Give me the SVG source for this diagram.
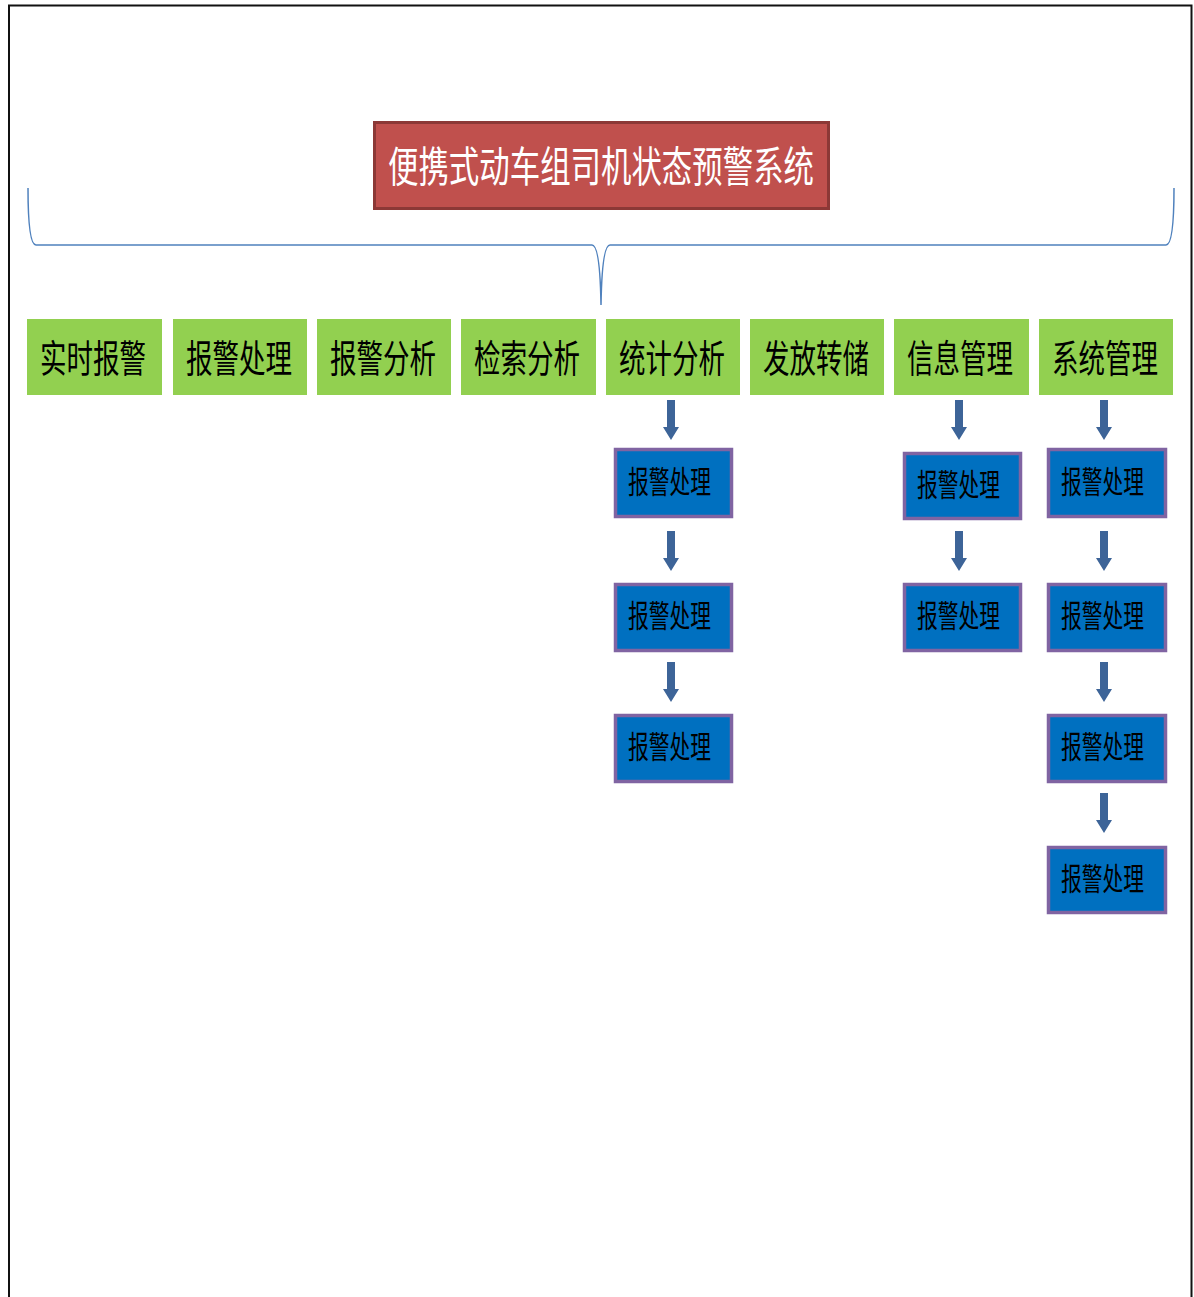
<svg xmlns="http://www.w3.org/2000/svg" width="1194" height="1297" viewBox="0 0 1194 1297">
<defs>
<style>
.cjk{font-family:"Noto Sans CJK SC","Noto Sans CJK JP",sans-serif;}
.title rect{fill:#C0504D;stroke:#8C3836;stroke-width:3;}
.title text{fill:#FFFFFF;font-size:42px;}
.cat rect{fill:#92D050;}
.cat text{fill:#000000;font-size:38px;}
.sub rect{fill:#0070C0;stroke:#8064A2;stroke-width:3.5;}
.sub text{fill:#000000;font-size:31px;}
.arrow{fill:#3D6498;}
</style>
<path id="arr" d="M-4,0 H4 V27 H8 L0,40 L-8,27 H-4 Z"/>
</defs>
<rect x="0" y="0" width="1194" height="1297" fill="#FFFFFF"/>
<path d="M9,1297 V5.5 H1191.5 V1297" fill="none" stroke="#111111" stroke-width="2"/>

<g id="title" class="title cjk">
<rect x="374.5" y="122.5" width="454" height="86"/>
<text x="388" y="182" textLength="426" lengthAdjust="spacingAndGlyphs">便携式动车组司机状态预警系统</text>
</g>

<g id="brace">
<path d="M28,188 Q28,245 36,245 H592 Q600,245 601,305 Q602,245 610,245 H1166 Q1174,245 1174,188" fill="none" stroke="#4F81BD" stroke-width="1.5"/>
</g>

<g id="cat1" class="cat cjk"><rect x="27" y="319" width="135" height="76"/><text x="40" y="372" textLength="106" lengthAdjust="spacingAndGlyphs">实时报警</text></g>
<g id="cat2" class="cat cjk"><rect x="173" y="319" width="134" height="76"/><text x="186" y="372" textLength="106" lengthAdjust="spacingAndGlyphs">报警处理</text></g>
<g id="cat3" class="cat cjk"><rect x="317" y="319" width="134" height="76"/><text x="330" y="372" textLength="106" lengthAdjust="spacingAndGlyphs">报警分析</text></g>
<g id="cat4" class="cat cjk"><rect x="461" y="319" width="135" height="76"/><text x="474" y="372" textLength="106" lengthAdjust="spacingAndGlyphs">检索分析</text></g>
<g id="cat5" class="cat cjk"><rect x="606" y="319" width="134" height="76"/><text x="619" y="372" textLength="106" lengthAdjust="spacingAndGlyphs">统计分析</text></g>
<g id="cat6" class="cat cjk"><rect x="750" y="319" width="134" height="76"/><text x="763" y="372" textLength="106" lengthAdjust="spacingAndGlyphs">发放转储</text></g>
<g id="cat7" class="cat cjk"><rect x="894" y="319" width="135" height="76"/><text x="907" y="372" textLength="106" lengthAdjust="spacingAndGlyphs">信息管理</text></g>
<g id="cat8" class="cat cjk"><rect x="1039" y="319" width="134" height="76"/><text x="1052" y="372" textLength="106" lengthAdjust="spacingAndGlyphs">系统管理</text></g>

<g id="sub5a" class="sub cjk"><rect x="615.5" y="449.5" width="116" height="67"/><text x="628" y="493" textLength="83" lengthAdjust="spacingAndGlyphs">报警处理</text></g>
<g id="sub5b" class="sub cjk"><rect x="615.5" y="584.5" width="116" height="66"/><text x="628" y="627" textLength="83" lengthAdjust="spacingAndGlyphs">报警处理</text></g>
<g id="sub5c" class="sub cjk"><rect x="615.5" y="715.5" width="116" height="66"/><text x="628" y="758" textLength="83" lengthAdjust="spacingAndGlyphs">报警处理</text></g>

<g id="sub7a" class="sub cjk"><rect x="904.5" y="453.5" width="116" height="65"/><text x="917" y="496" textLength="83" lengthAdjust="spacingAndGlyphs">报警处理</text></g>
<g id="sub7b" class="sub cjk"><rect x="904.5" y="584.5" width="116" height="66"/><text x="917" y="627" textLength="83" lengthAdjust="spacingAndGlyphs">报警处理</text></g>

<g id="sub8a" class="sub cjk"><rect x="1048.5" y="449.5" width="117" height="67"/><text x="1061" y="493" textLength="83" lengthAdjust="spacingAndGlyphs">报警处理</text></g>
<g id="sub8b" class="sub cjk"><rect x="1048.5" y="584.5" width="117" height="66"/><text x="1061" y="627" textLength="83" lengthAdjust="spacingAndGlyphs">报警处理</text></g>
<g id="sub8c" class="sub cjk"><rect x="1048.5" y="715.5" width="117" height="66"/><text x="1061" y="758" textLength="83" lengthAdjust="spacingAndGlyphs">报警处理</text></g>
<g id="sub8d" class="sub cjk"><rect x="1048.5" y="847.5" width="117" height="65"/><text x="1061" y="890" textLength="83" lengthAdjust="spacingAndGlyphs">报警处理</text></g>

<g id="connectors" class="arrow">
<use href="#arr" x="671" y="400"/>
<use href="#arr" x="671" y="531"/>
<use href="#arr" x="671" y="662"/>
<use href="#arr" x="959" y="400"/>
<use href="#arr" x="959" y="531"/>
<use href="#arr" x="1104" y="400"/>
<use href="#arr" x="1104" y="531"/>
<use href="#arr" x="1104" y="662"/>
<use href="#arr" x="1104" y="793"/>
</g>
</svg>
